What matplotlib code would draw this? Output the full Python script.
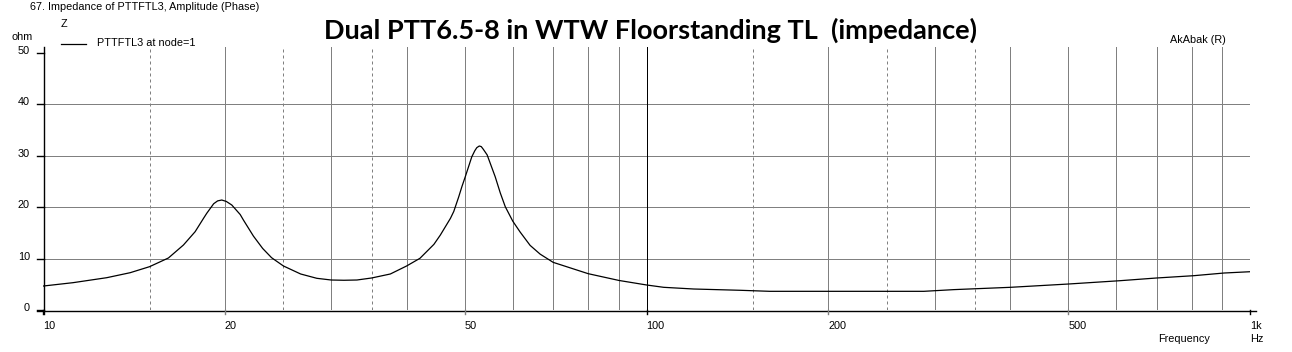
import matplotlib
matplotlib.use("Agg")
import matplotlib.pyplot as plt
from matplotlib.lines import Line2D

# ---- data ----
freq_hz = [10, 11.2, 12.74, 13.93, 15, 16.12, 17.07, 17.85, 18.44, 18.66, 19.16, 19.45, 19.76,
           20.1, 20.53, 21.2, 21.47, 22.3, 23.1, 23.9, 25, 26.7, 28.4, 30, 31.5, 33.1, 35, 37.6, 40,
           42.1, 44.4, 45.5, 47.3, 47.9, 48.8, 49.4, 50.05, 51.3, 51.9, 52.3, 52.8, 53.2, 53.6, 54.4,
           56.1, 57.2, 58.3, 60, 61.7, 64.1, 66.6, 70, 80, 90, 100, 106.7, 119.7, 143, 160,
           200, 250, 288, 323, 401, 500, 608, 700, 807, 906, 1000]
impedance_ohm = [4.70, 5.35, 6.32, 7.29, 8.46, 10.15, 12.67, 15.26, 17.9, 18.84, 20.7, 21.25, 21.42,
                 21.15, 20.45, 18.6, 17.5, 14.4, 12.0, 10.2, 8.6, 7.04, 6.2, 5.87, 5.82, 5.87, 6.26, 7.04, 8.59,
                 10.09, 12.8, 14.6, 17.87, 19.2, 22.0, 24.0, 25.95, 29.8, 31.0, 31.6, 31.92, 31.8, 31.3, 30.2,
                 25.95, 22.8, 20.12, 17.3, 15.2, 12.6, 10.9, 9.3, 7.1, 5.78, 4.9, 4.45, 4.12, 3.87, 3.67,
                 3.67, 3.67, 3.67, 4.0, 4.45, 5.09, 5.73, 6.26, 6.71, 7.23, 7.48]

x_tick_vals = [10, 20, 50, 100, 200, 500, 1000]
x_tick_labels = ["10", "20", "50", "100", "200", "500", "1k"]
y_tick_vals = [0, 10, 20, 30, 40, 50]
solid_grid_x = [20, 30, 40, 50, 60, 70, 80, 90, 200, 300, 400, 500, 600, 700, 800, 900]
dashed_grid_x = [15, 25, 35, 150, 250, 350]
black_grid_x = [100, 1000]
grid_y = [10, 20, 30, 40]

W, H = 1292, 352
fig = plt.figure(figsize=(W / 100, H / 100), dpi=100)
fig.patch.set_facecolor("white")

x0, x1 = 43.3, 1250.0
y_zero, y_top, px_per_ohm = 310.2, 47.0, 5.144
ylim_top = (y_zero - y_top) / px_per_ohm

ax = fig.add_axes([x0 / W, 1 - y_zero / H, (x1 - x0) / W, (y_zero - y_top) / H])
ax.set_xscale("log")
ax.set_xlim(10, 1000)
ax.set_ylim(0, ylim_top)
for s in ax.spines.values():
    s.set_visible(False)
ax.set_xticks([])
ax.set_yticks([])
ax.minorticks_off()
ax.set_xticks([], minor=True)

lw = 0.72
gray = "#808080"
for xv in solid_grid_x:
    ax.axvline(xv, color=gray, lw=lw, zorder=1)
for xv in dashed_grid_x:
    ax.axvline(xv, color=gray, lw=lw, ls=(0, (3, 3)), zorder=1)
for yv in grid_y:
    ax.axhline(yv, color=gray, lw=lw, zorder=1)
for xv in black_grid_x:
    ax.axvline(xv, color="black", lw=lw, zorder=2)

ax.plot(freq_hz, impedance_ohm, color="black", lw=0.9, zorder=3)

fig.add_artist(Line2D([37 / W, 1256 / W], [1 - 310.5 / H] * 2, color="black", lw=1.0))
fig.add_artist(Line2D([43.5 / W] * 2, [1 - 47 / H, 1 - 314 / H], color="black", lw=1.0))

font_small = dict(family=["Liberation Sans", "DejaVu Sans"], fontsize=7.8, color="black")

# x ticks and labels
for v, lab in zip(x_tick_vals, x_tick_labels):
    xf = ax.transData.transform((v, 0))[0]
    fig.add_artist(Line2D([xf / W] * 2, [1 - 310 / H, 1 - 314 / H],
                          color="black" if v in black_grid_x or v == 10 else gray, lw=1.0))
    fig.text(xf / W, 1 - 326 / H, lab, ha="left", va="center", **font_small)
fig.text(1250 / W, 1 - 339 / H, "Hz", ha="left", va="center", **font_small)
fig.text(1158 / W, 1 - 339 / H, "Frequency", ha="left", va="center", **font_small)

# y ticks and labels
for v in y_tick_vals:
    yf = y_zero - v * px_per_ohm
    fig.add_artist(Line2D([37 / W, 43.5 / W], [1 - yf / H] * 2, color="black", lw=1.0))
    fig.text(30 / W, 1 - (yf - 2) / H, str(v), ha="right", va="center", **font_small)
fig.text(12 / W, 1 - 37 / H, "ohm", ha="left", va="center", **font_small)

fig.text(30 / W, 1 - 7 / H, "67. Impedance of PTTFTL3, Amplitude (Phase)", ha="left", va="center", **font_small)
fig.text(61 / W, 1 - 24 / H, "Z", ha="left", va="center", **font_small)
fig.add_artist(Line2D([61 / W, 86 / W], [1 - 43.5 / H] * 2, color="black", lw=0.9))
fig.text(97 / W, 1 - 43 / H, "PTTFTL3 at node=1", ha="left", va="center", **font_small)
fig.text(1170 / W, 1 - 40 / H, "AkAbak (R)", ha="left", va="center", **font_small)

fig.text(650 / W, 1 - 30 / H, "Dual PTT6.5-8 in WTW Floorstanding TL  (impedance)",
         ha="center", va="center", family=["Lato", "DejaVu Sans"], fontweight="bold", fontsize=19.5)

fig.savefig("out.png", dpi=100, facecolor="white")
